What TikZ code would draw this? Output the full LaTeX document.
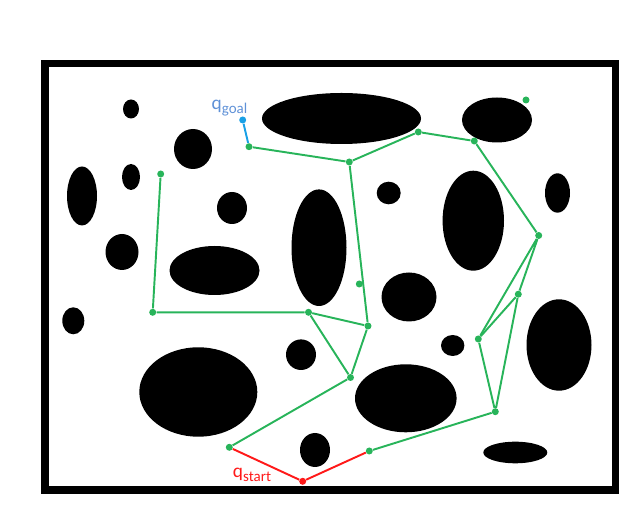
\documentclass[tikz,border=0pt]{standalone}
\usepackage{fontspec}
\setsansfont{Carlito}
\usetikzlibrary{positioning}

\definecolor{roadgreen}{RGB}{40,180,90}
\definecolor{goalblue}{RGB}{25,160,230}
\definecolor{goaltext}{RGB}{95,145,215}
\definecolor{startred}{RGB}{255,25,25}

% q with a subscript
\newcommand{\qsub}[1]{q\raisebox{-2.2pt}{\fontsize{8.5}{9}\selectfont #1}}

\begin{document}
\begin{tikzpicture}[x=0.02cm, y=-0.02cm,
  pt/.style={circle, fill=roadgreen, inner sep=0pt, minimum size=1.4mm},
  edge/.style={roadgreen, line width=1.1pt},
  lbl/.style={font=\sffamily\fontsize{11}{12}\selectfont, inner sep=0pt}]
  % canvas
  \useasboundingbox (0,0) rectangle (633,516);
  \draw[line width=4pt] (45,63.5) rectangle (615.5,490);

  % obstacles: cx/cy/rx/ry
  \foreach \cx/\cy/\rx/\ry in {131/109/8/9.5, 193/149/19/20, 131/177/9/13,
      82/196/15/29.5, 232/208/15/16, 122/252/16.5/18, 214.5/270.5/45/24.5,
      341.5/118.5/79.5/25.5, 497/120/35/22.5, 319/247.7/27.5/58.3,
      388.7/193/12/11.3, 473.3/220.7/30.7/50, 557.5/193/12.5/19.7,
      409/297/27.5/24.5, 73.3/320.8/11/13.5, 301/354.7/15/15.3,
      198.3/392/59/44.7, 452.7/345.5/11.7/10.5, 405.8/398.3/50.8/34,
      559/345/32.5/45.7, 515.3/452.5/32/10.8, 315/450/15/17}
    \fill (\cx,\cy) ellipse [x radius=\rx, y radius=\ry];

  % roadmap vertices
  \node[pt, fill=goalblue] (goal) at (242.7,120) {};
  \node[pt] (a) at (249,146.7) {};
  \node[pt] (b) at (349.3,162) {};
  \node[pt] (c) at (418.3,132) {};
  \node[pt] (d) at (474.3,141) {};
  \node[pt] (e) at (538.7,235.5) {};
  \node[pt] (f) at (526,100) {};
  \node[pt] (g) at (160.7,174) {};
  \node[pt] (h) at (152.7,312.3) {};
  \node[pt] (i) at (308.5,312.3) {};
  \node[pt] (j) at (359.3,284) {};
  \node[pt] (k) at (368,326) {};
  \node[pt] (l) at (350.5,377.5) {};
  \node[pt] (m) at (229.3,447.3) {};
  \node[pt, fill=startred] (start) at (302.7,481.3) {};
  \node[pt] (n) at (369.3,451) {};
  \node[pt] (o) at (495.3,411.7) {};
  \node[pt] (p) at (478.3,339) {};
  \node[pt] (r) at (518.3,294.2) {};

  % edges
  \draw[edge, goalblue] (goal) -- (a);
  \draw[edge] (a) -- (b) -- (c) -- (d) -- (e);
  \draw[edge] (b) -- (k);
  \draw[edge] (g) -- (h) -- (i) -- (k) -- (l) -- (i);
  \draw[edge] (l) -- (m);
  \draw[edge, startred] (m) -- (start) -- (n);
  \draw[edge] (n) -- (o) -- (p) -- (e) -- (r) -- (o);
  \draw[edge] (p) -- (r);

  % labels
  \node[lbl, text=goaltext] (goallbl) at (229.5,108) {\qsub{goal}};
  \node[lbl, text=startred] (startlbl) at (252,475) {\qsub{start}};
\end{tikzpicture}
\end{document}
